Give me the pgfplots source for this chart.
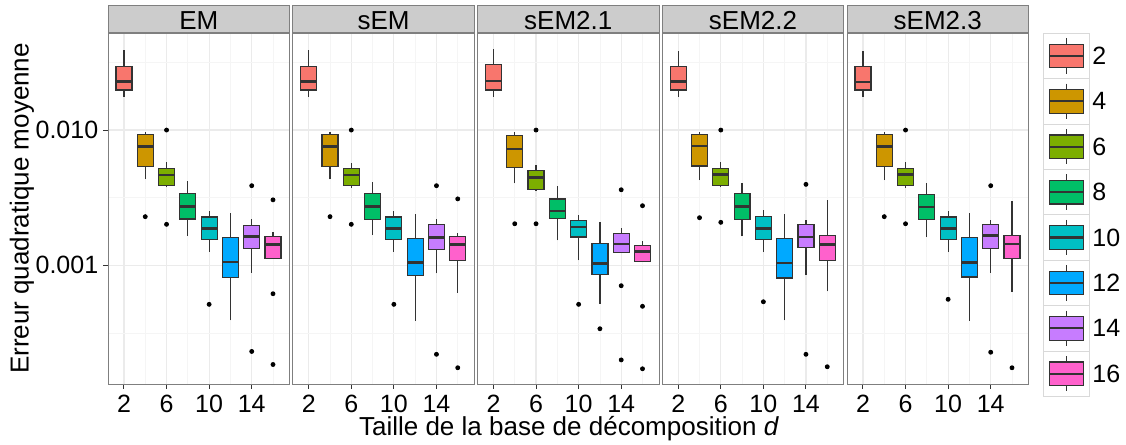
\documentclass[border=0pt]{standalone}
\usepackage{pgfplots}
\pgfplotsset{compat=1.18}
\usepackage{fontspec}
\setmainfont{Liberation Sans}

\definecolor{c2}{HTML}{F8766D}
\definecolor{c4}{HTML}{CD9600}
\definecolor{c6}{HTML}{7CAE00}
\definecolor{c8}{HTML}{00BE67}
\definecolor{c10}{HTML}{00BFC4}
\definecolor{c12}{HTML}{00A9FF}
\definecolor{c14}{HTML}{C77CFF}
\definecolor{c16}{HTML}{FF61CC}
\definecolor{gridmaj}{HTML}{EBEBEB}
\definecolor{gridmin}{HTML}{F5F5F5}
\definecolor{border}{HTML}{7F7F7F}
\definecolor{strip}{HTML}{CCCCCC}
\definecolor{boxline}{HTML}{333333}
\definecolor{keyframe}{HTML}{D9D9D9}

\newcommand\tfont{\fontsize{12.5}{14}\selectfont}
\newcommand\lfont{\fontsize{13}{15}\selectfont}

% one box: position, lower whisker, Q1, median, Q3, upper whisker, colour
\newcommand\bx[7]{%
  \pgfmathsetmacro\xl{#1-0.75}\pgfmathsetmacro\xr{#1+0.75}%
  \addplot[boxline, line width=0.6pt] coordinates {(#1,#2) (#1,#3)};
  \addplot[boxline, line width=0.6pt] coordinates {(#1,#5) (#1,#6)};
  \addplot[fill=#7, draw=boxline, line width=0.6pt]
    coordinates {(\xl,#3) (\xr,#3) (\xr,#5) (\xl,#5)} -- cycle;
  \addplot[boxline, line width=1.3pt] coordinates {(\xl,#4) (\xr,#4)};
}

\pgfplotsset{
  every axis/.append style={
    scale only axis, width=90.75pt, height=175.35pt,
    xmin=0.5, xmax=17.55,
    ymin=1.327e-4, ymax=0.0519,
    xtick={2,6,10,14}, xticklabels={2,6,10,14},
    minor xtick={4,8,12,16},
    ytick={0.001,0.01}, minor ytick={0.000316,0.00316,0.0316},
    grid=both,
    major grid style={draw=gridmaj, line width=0.6pt},
    minor grid style={draw=gridmin, line width=0.4pt},
    axis line style={draw=border, line width=0.5pt},
    tick align=outside, tick pos=left,
    major tick length=2.4pt, minor tick length=0pt,
    tick style={draw=boxline, line width=0.5pt},
    ticklabel style={font=\tfont, text=black},
    xticklabel style={inner xsep=1pt, inner ysep=0pt},
    xticklabel shift=3pt,
    yticklabel style={inner sep=2.3pt},
    title style={at={(0.5,1)}, anchor=south, yshift=-6pt,
      fill=strip, draw=border, line width=0.5pt,
      minimum width=90.75pt, inner sep=0pt,
      text height=12pt, text depth=1.65pt, font=\lfont},
  },
  myinner/.style={yticklabels={}, ytick style={draw=none}},
  mydots/.style={only marks, mark=*, mark size=1pt, black},
}

\begin{document}
\begin{tikzpicture}
\path[use as bounding box] (0,0) rectangle (563pt,222.5pt);

% EM
\begin{axis}[ymode=log, anchor=north west, at={(54pt,205.85pt)}, title={EM},
  yticklabels={0.001,0.010}]
\bx{2}{0.01762}{0.01977}{0.02275}{0.02938}{0.0390}{c2}
\bx{4}{0.00434}{0.00539}{0.00753}{0.00929}{0.00962}{c4}
\bx{6}{0.00377}{0.00388}{0.00465}{0.00517}{0.00577}{c6}
\bx{8}{0.00166}{0.00220}{0.00271}{0.00340}{0.00420}{c8}
\bx{10}{0.00126}{0.00156}{0.00188}{0.00228}{0.00252}{c10}
\bx{12}{0.000392}{0.000815}{0.00106}{0.00160}{0.00245}{c12}
\bx{14}{0.000882}{0.00134}{0.00164}{0.00198}{0.00220}{c14}
\bx{16}{0.00112}{0.00112}{0.00143}{0.00163}{0.00175}{c16}
\addplot[mydots] coordinates {(4,0.00229) (6,0.0100) (6,0.00201) (10,0.000515)
  (14,0.00388) (14,0.000231) (16,0.00305) (16,0.000617) (16,0.000185)};
\end{axis}

% sEM
\begin{axis}[ymode=log, myinner, anchor=north west, at={(146.375pt,205.85pt)}, title={sEM}]
\bx{2}{0.01762}{0.01977}{0.02275}{0.02938}{0.0390}{c2}
\bx{4}{0.00432}{0.00539}{0.00753}{0.00929}{0.00962}{c4}
\bx{6}{0.00374}{0.00389}{0.00466}{0.00517}{0.00573}{c6}
\bx{8}{0.00167}{0.00218}{0.00271}{0.00339}{0.00416}{c8}
\bx{10}{0.00126}{0.00156}{0.00187}{0.00228}{0.00252}{c10}
\bx{12}{0.000390}{0.000838}{0.00105}{0.00159}{0.00240}{c12}
\bx{14}{0.000873}{0.00131}{0.00161}{0.00201}{0.00220}{c14}
\bx{16}{0.000627}{0.00109}{0.00143}{0.00164}{0.00172}{c16}
\addplot[mydots] coordinates {(4,0.00229) (6,0.0100) (6,0.00201) (10,0.000515)
  (14,0.00388) (14,0.000220) (16,0.00310) (16,0.000175)};
\end{axis}

% sEM2.1
\begin{axis}[ymode=log, myinner, anchor=north west, at={(238.75pt,205.85pt)}, title={sEM2.1}]
\bx{2}{0.01762}{0.01977}{0.0230}{0.0306}{0.0395}{c2}
\bx{4}{0.00404}{0.00526}{0.00727}{0.00908}{0.00971}{c4}
\bx{6}{0.00356}{0.00366}{0.00444}{0.00504}{0.00554}{c6}
\bx{8}{0.00153}{0.00221}{0.00253}{0.00309}{0.00384}{c8}
\bx{10}{0.00109}{0.00162}{0.00192}{0.00215}{0.00235}{c10}
\bx{12}{0.000520}{0.000852}{0.00103}{0.00145}{0.00209}{c12}
\bx{14}{0.00125}{0.00125}{0.00144}{0.00172}{0.00188}{c14}
\bx{16}{0.00107}{0.00107}{0.00127}{0.00140}{0.00152}{c16}
\addplot[mydots] coordinates {(4,0.00203) (6,0.0100) (6,0.00203) (10,0.000515)
  (12,0.000340) (14,0.00362) (14,0.000707) (14,0.000200)
  (16,0.00276) (16,0.000498) (16,0.000172)};
\end{axis}

% sEM2.2
\begin{axis}[ymode=log, myinner, anchor=north west, at={(331.125pt,205.85pt)}, title={sEM2.2}]
\bx{2}{0.01762}{0.01977}{0.02275}{0.02938}{0.0385}{c2}
\bx{4}{0.00427}{0.00542}{0.00762}{0.00929}{0.00971}{c4}
\bx{6}{0.00377}{0.00388}{0.00467}{0.00517}{0.00580}{c6}
\bx{8}{0.00164}{0.00219}{0.00271}{0.00340}{0.00408}{c8}
\bx{10}{0.00125}{0.00156}{0.00188}{0.00230}{0.00256}{c10}
\bx{12}{0.000392}{0.000805}{0.00104}{0.00159}{0.00238}{c12}
\bx{14}{0.000848}{0.00136}{0.00162}{0.00200}{0.00215}{c14}
\bx{16}{0.000642}{0.00108}{0.00142}{0.00167}{0.00302}{c16}
\addplot[mydots] coordinates {(4,0.00225) (6,0.0100) (6,0.00208) (10,0.000538)
  (14,0.00397) (14,0.000220) (16,0.000178)};
\end{axis}

% sEM2.3
\begin{axis}[ymode=log, myinner, anchor=north west, at={(423.5pt,205.85pt)}, title={sEM2.3}]
\bx{2}{0.01762}{0.01977}{0.0226}{0.02938}{0.0385}{c2}
\bx{4}{0.00427}{0.00536}{0.00753}{0.00929}{0.00971}{c4}
\bx{6}{0.00374}{0.00388}{0.00467}{0.00517}{0.00580}{c6}
\bx{8}{0.00162}{0.00217}{0.00270}{0.00335}{0.00408}{c8}
\bx{10}{0.00125}{0.00156}{0.00188}{0.00228}{0.00252}{c10}
\bx{12}{0.000388}{0.000819}{0.00105}{0.00161}{0.00242}{c12}
\bx{14}{0.000882}{0.00133}{0.00166}{0.00201}{0.00216}{c14}
\bx{16}{0.000635}{0.00113}{0.00144}{0.00167}{0.00297}{c16}
\addplot[mydots] coordinates {(4,0.00229) (6,0.0100) (6,0.00203) (10,0.000561)
  (14,0.00388) (14,0.000228) (16,0.000175)};
\end{axis}

% axis titles
\node[rotate=90, anchor=base, font=\lfont] at (14.25pt,118.25pt) {Erreur quadratique moyenne};
\node[anchor=base, font=\lfont, inner ysep=0pt] at (284.5pt,5.0pt) {Taille de la base de décomposition \textit{d}};

% legend (keys drawn in pixel units of the reference)
\begin{scope}[x=0.5pt, y=-0.5pt, yshift=222.5pt]
\foreach \c/\l [count=\i from 0] in {c2/2,c4/4,c6/6,c8/8,c10/10,c12/12,c14/14,c16/16}{
  \pgfmathsetmacro\t{33.3+45.4*\i}
  \draw[keyframe, fill=white, line width=0.5pt] (1043,\t) rectangle (1089,\t+45.4);
  \draw[boxline, line width=0.6pt] (1066.5,\t+5) -- (1066.5,\t+40.4);
  \draw[boxline, fill=\c, line width=0.6pt] (1049.3,\t+10.9) rectangle (1083.7,\t+34.5);
  \draw[boxline, line width=1.1pt] (1049.3,\t+22.7) -- (1083.7,\t+22.7);
  \node[anchor=west, font=\tfont, inner sep=0pt] at (1092,\t+22.7) {\l};
}
\end{scope}
\end{tikzpicture}
\end{document}
